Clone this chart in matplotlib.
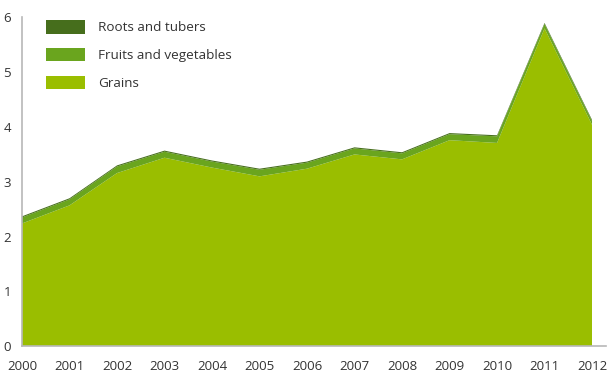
import matplotlib
matplotlib.use("Agg")
import matplotlib.pyplot as plt
from matplotlib.patches import Patch

years = [2000, 2001, 2002, 2003, 2004, 2005, 2006, 2007, 2008, 2009, 2010, 2011, 2012]
grains = [2.24, 2.57, 3.16, 3.44, 3.26, 3.10, 3.24, 3.50, 3.41, 3.76, 3.71, 5.80, 4.04]
fruits_veg = [0.11, 0.11, 0.12, 0.11, 0.11, 0.12, 0.11, 0.11, 0.11, 0.11, 0.12, 0.08, 0.07]
roots_tubers = [0.02, 0.02, 0.02, 0.02, 0.02, 0.02, 0.02, 0.02, 0.02, 0.02, 0.02, 0.02, 0.02]

labels = ["Grains", "Fruits and vegetables", "Roots and tubers"]
colors = ["#9abe00", "#6aa51e", "#466e1c"]

plt.rcParams["font.family"] = ["Open Sans", "DejaVu Sans"]

fig = plt.figure(figsize=(6.11, 3.8), dpi=100)
ax = fig.add_axes([0.036, 0.089, 0.933, 0.865])

ax.stackplot(years, grains, fruits_veg, roots_tubers, colors=colors, linewidth=0)

ax.set_xlim(2000, 2012)
ax.set_ylim(0, 6)
ax.set_xticks(years)
ax.set_yticks(range(0, 7))
ax.tick_params(length=0, labelsize=9.5, colors="#333333")
ax.tick_params(axis="x", pad=10)
ax.tick_params(axis="y", pad=8)

for s in ["top", "right"]:
    ax.spines[s].set_visible(False)
ax.spines["left"].set_color("#b8b8b8")
ax.spines["bottom"].set_color("#b8b8b8")
ax.spines["left"].set_linewidth(1.2)
ax.spines["bottom"].set_linewidth(1.2)
ax.spines["bottom"].set_bounds(2000, 2012.3)

handles = [Patch(facecolor=colors[i], edgecolor="none") for i in [2, 1, 0]]
leg = ax.legend(handles, [labels[i] for i in [2, 1, 0]], loc="upper left",
                bbox_to_anchor=(0.02, 1.03), frameon=False, fontsize=9.7,
                handlelength=2.9, handleheight=1.2, labelspacing=1.0,
                handletextpad=1.0)
for t in leg.get_texts():
    t.set_color("#333333")

fig.savefig("out.png", dpi=100)
